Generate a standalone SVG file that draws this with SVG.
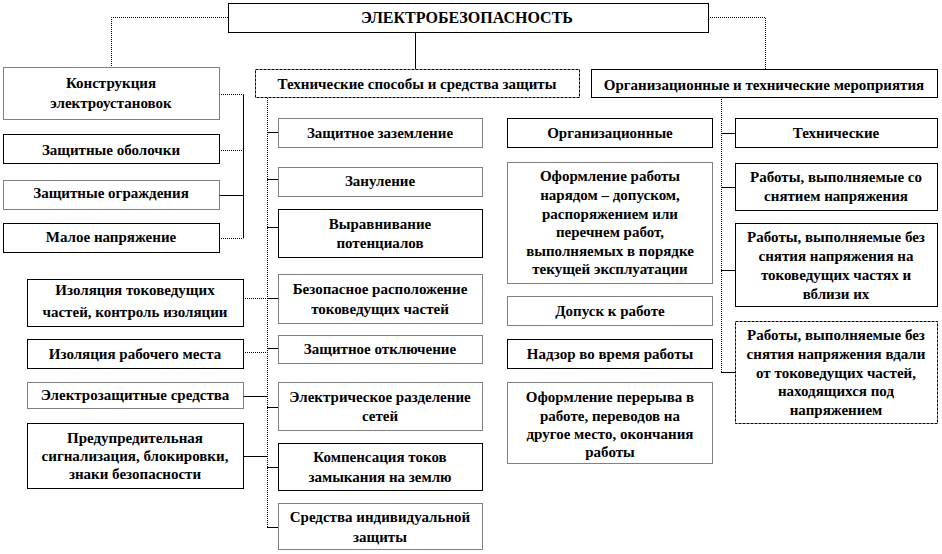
<svg xmlns="http://www.w3.org/2000/svg" width="942" height="554" viewBox="0 0 942 554">
<style>
.b{fill:#fff;stroke:#000;stroke-width:1}
.bd{stroke-dasharray:1 1}
.bs{stroke-dasharray:3 1}
.t{font-family:"Liberation Serif","Times New Roman",serif;font-weight:bold;font-size:15px;text-anchor:middle;fill:#000}
.tt{font-size:16px}
.l{fill:none;stroke:#000;stroke-width:1}
.ld{stroke-dasharray:1 1}
</style>
<rect width="942" height="554" fill="#fff"/>
<g id="connectors">
<path class="l ld" d="M228 17.5H111.5V67"/>
<path class="l" d="M415.5 32V69"/>
<path class="l ld" d="M708 17.5H765.5V69"/>
<path class="l ld" d="M219 94.5H243.5"/>
<path class="l" d="M243.5 94.5V238.5"/>
<path class="l ld" d="M219 150.5H243"/>
<path class="l" d="M219 195.5H243"/>
<path class="l ld" d="M219 238.5H243"/>
<path class="l ld" d="M267.5 98V527.5"/>
<path class="l ld" d="M243 298.5H267"/>
<path class="l ld" d="M243 352.5H267"/>
<path class="l" d="M243 396.5H267"/>
<path class="l" d="M243 456.5H267"/>
<path class="l" d="M267 132.5H278M267 179.5H278M267 227.5H278M267 298.5H278M267 348.5H278M267 407.5H278M267 467.5H278M267 527.5H278"/>
<path class="l ld" d="M721.5 97V372.5"/>
<path class="l" d="M721 133.5H735M721 187.5H735M721 270.5H735M721 372.5H735"/>
</g>
<g id="n0"><rect class="b" x="228.5" y="3.5" width="480" height="29"/><text class="t tt" x="467" y="23">ЭЛЕКТРОБЕЗОПАСНОСТЬ</text></g>
<g id="n1"><rect class="b bd" x="3.5" y="67.5" width="216" height="52"/><text class="t" x="111" y="88">Конструкция</text><text class="t" x="111" y="108">электроустановок</text></g>
<g id="n2"><rect class="b bs" x="255.5" y="69.5" width="324" height="28"/><text class="t" x="417" y="89">Технические  способы и средства защиты</text></g>
<g id="n3"><rect class="b" x="591.5" y="69.5" width="346" height="28"/><text class="t" x="764" y="90">Организационные и технические мероприятия</text></g>
<g id="n4"><rect class="b" x="3.5" y="134.5" width="216" height="29"/><text class="t" x="111" y="155">Защитные оболочки</text></g>
<g id="n5"><rect class="b bd" x="3.5" y="180.5" width="216" height="29"/><text class="t" x="111" y="198">Защитные ограждения</text></g>
<g id="n6"><rect class="b" x="3.5" y="223.5" width="216" height="29"/><text class="t" x="111" y="242">Малое напряжение</text></g>
<g id="n7"><rect class="b" x="27.5" y="279.5" width="216" height="47"/><text class="t" x="135" y="295">Изоляция токоведущих</text><text class="t" x="135" y="317">частей, контроль изоляции</text></g>
<g id="n8"><rect class="b" x="27.5" y="339.5" width="216" height="29"/><text class="t" x="135" y="359">Изоляция рабочего места</text></g>
<g id="n9"><rect class="b bd" x="27.5" y="382.5" width="216" height="26"/><text class="t" x="135" y="400">Электрозащитные средства</text></g>
<g id="n10"><rect class="b" x="27.5" y="423.5" width="216" height="65"/><text class="t" x="135" y="443">Предупредительная</text><text class="t" x="135" y="461">сигнализация, блокировки,</text><text class="t" x="135" y="479">знаки безопасности</text></g>
<g id="n11"><rect class="b bd" x="278.5" y="118.5" width="204" height="29"/><text class="t" x="380" y="138">Защитное заземление</text></g>
<g id="n12"><rect class="b bd" x="278.5" y="167.5" width="204" height="29"/><text class="t" x="380" y="186">Зануление</text></g>
<g id="n13"><rect class="b" x="278.5" y="209.5" width="204" height="48"/><text class="t" x="380" y="229">Выравнивание</text><text class="t" x="380" y="248">потенциалов</text></g>
<g id="n14"><rect class="b bd" x="278.5" y="274.5" width="204" height="49"/><text class="t" x="380" y="294">Безопасное расположение</text><text class="t" x="380" y="314">токоведущих  частей</text></g>
<g id="n15"><rect class="b bd" x="278.5" y="335.5" width="204" height="28"/><text class="t" x="380" y="354">Защитное отключение</text></g>
<g id="n16"><rect class="b bd" x="278.5" y="382.5" width="204" height="48"/><text class="t" x="380" y="402">Электрическое разделение</text><text class="t" x="380" y="421">сетей</text></g>
<g id="n17"><rect class="b" x="278.5" y="443.5" width="204" height="47"/><text class="t" x="380" y="462">Компенсация токов</text><text class="t" x="380" y="482">замыкания на землю</text></g>
<g id="n18"><rect class="b bd" x="278.5" y="503.5" width="204" height="46"/><text class="t" x="380" y="522">Средства индивидуальной</text><text class="t" x="380" y="542">защиты</text></g>
<g id="n19"><rect class="b" x="507.5" y="118.5" width="205" height="29"/><text class="t" x="610" y="138">Организационные</text></g>
<g id="n20"><rect class="b bd" x="507.5" y="162.5" width="205" height="121"/><text class="t" x="610" y="181">Оформление работы</text><text class="t" x="610" y="200">нарядом – допуском,</text><text class="t" x="610" y="219">распоряжением или</text><text class="t" x="610" y="237">перечнем работ,</text><text class="t" x="610" y="256">выполняемых в порядке</text><text class="t" x="610" y="274">текущей  эксплуатации</text></g>
<g id="n21"><rect class="b bd" x="507.5" y="296.5" width="205" height="29"/><text class="t" x="610" y="316">Допуск к работе</text></g>
<g id="n22"><rect class="b" x="507.5" y="339.5" width="205" height="29"/><text class="t" x="610" y="359">Надзор во время работы</text></g>
<g id="n23"><rect class="b bd" x="507.5" y="382.5" width="205" height="81"/><text class="t" x="610" y="402">Оформление перерыва в</text><text class="t" x="610" y="421">работе, переводов на</text><text class="t" x="610" y="439">другое  место, окончания</text><text class="t" x="610" y="457">работы</text></g>
<g id="n24"><rect class="b" x="735.5" y="118.5" width="202" height="29"/><text class="t" x="836" y="138">Технические</text></g>
<g id="n25"><rect class="b" x="735.5" y="163.5" width="202" height="47"/><text class="t" x="836" y="182">Работы, выполняемые со</text><text class="t" x="836" y="201">снятием напряжения</text></g>
<g id="n26"><rect class="b" x="735.5" y="223.5" width="202" height="83"/><text class="t" x="836" y="242">Работы, выполняемые без</text><text class="t" x="836" y="261">снятия напряжения на</text><text class="t" x="836" y="280">токоведущих  частях и</text><text class="t" x="836" y="299">вблизи их</text></g>
<g id="n27"><rect class="b bs" x="735.5" y="321.5" width="202" height="102"/><text class="t" x="836" y="340">Работы, выполняемые без</text><text class="t" x="836" y="359">снятия напряжения вдали</text><text class="t" x="836" y="378">от токоведущих  частей,</text><text class="t" x="836" y="396">находящихся  под</text><text class="t" x="836" y="415">напряжением</text></g>
</svg>
